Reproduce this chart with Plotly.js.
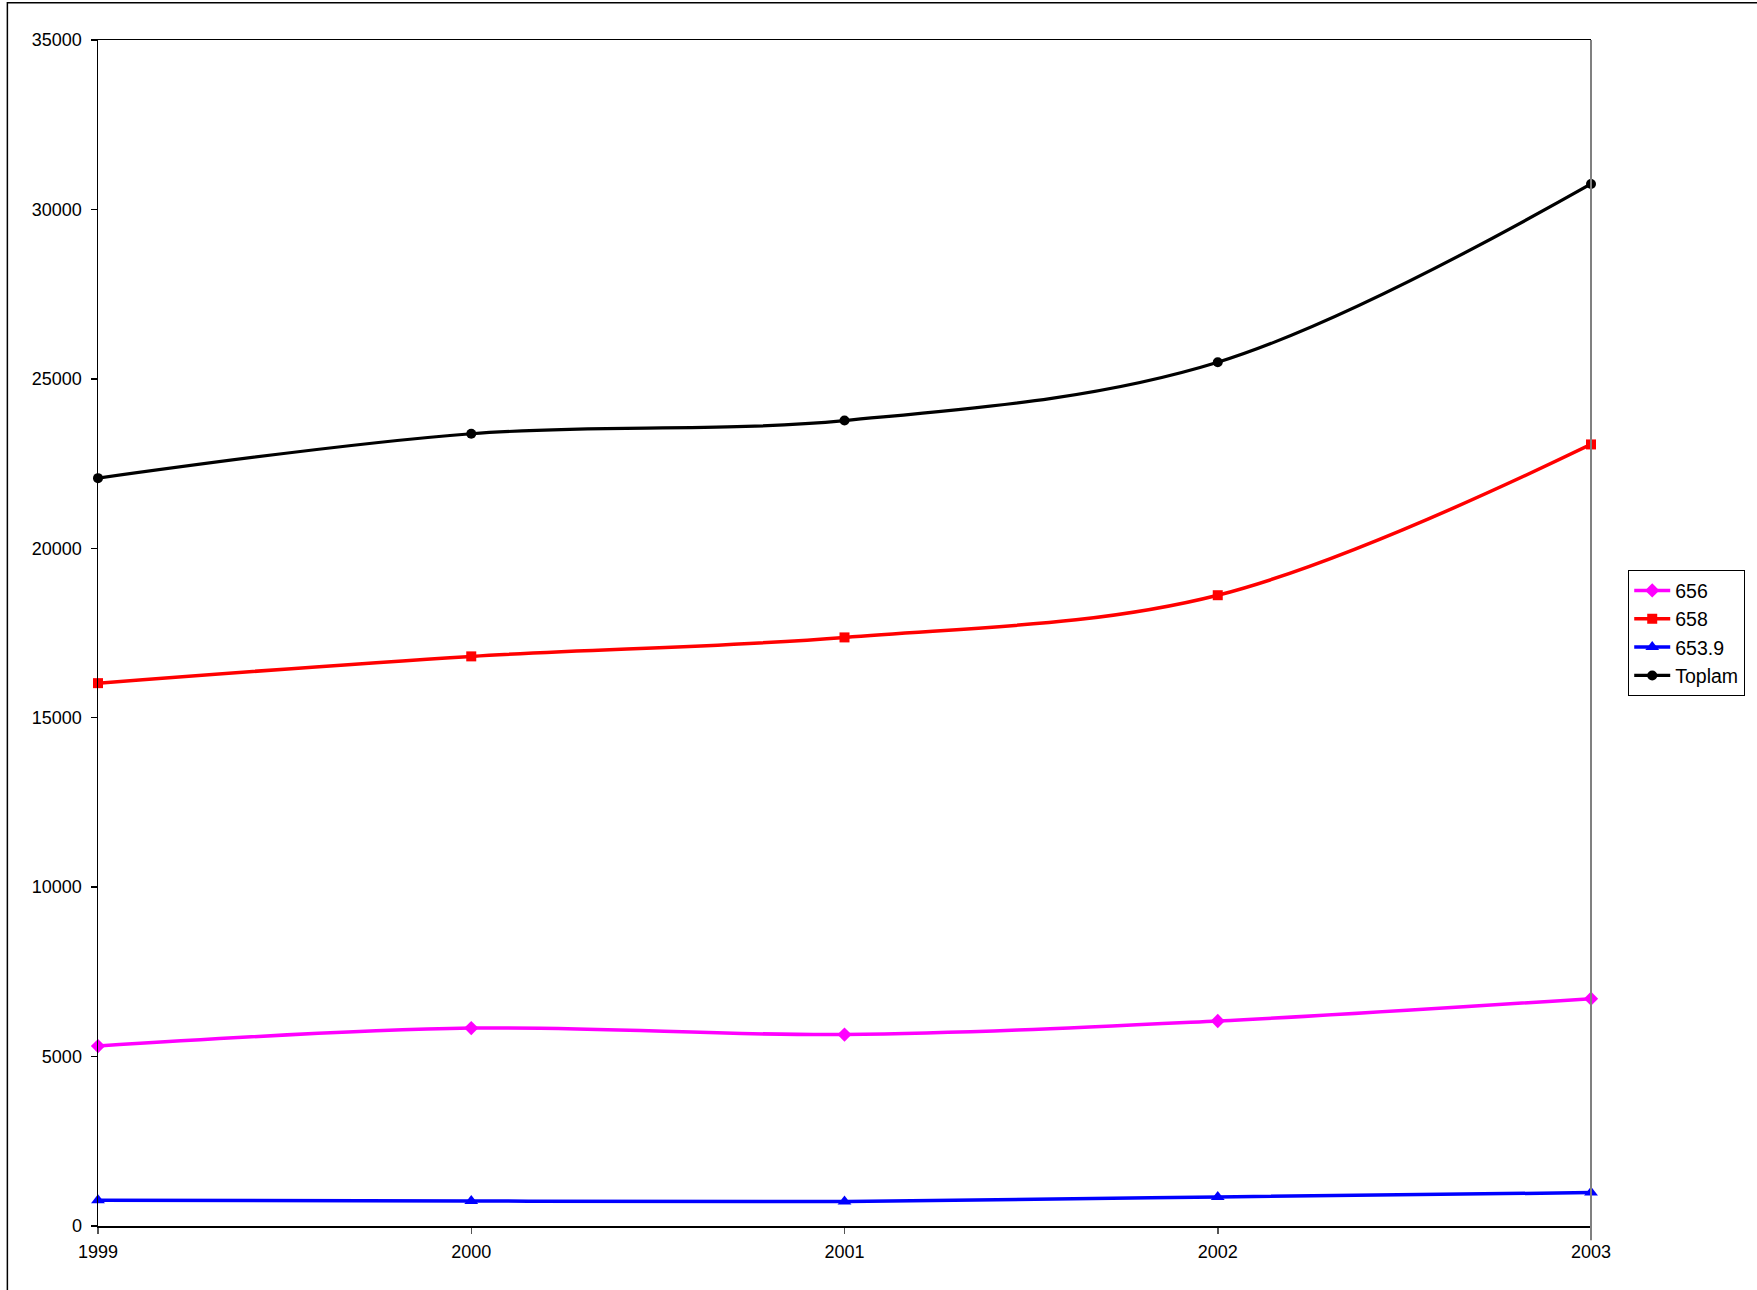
<!DOCTYPE html>
<html>
<head>
<meta charset="utf-8">
<script src="https://cdn.plot.ly/plotly-3.0.1.min.js"></script>
<style>
  html, body { margin: 0; padding: 0; background: #fff; }
  #chart { width: 1757px; height: 1290px; }
</style>
</head>
<body>
<div id="chart"></div>
<script>
const years = [1999, 2000, 2001, 2002, 2003];
const yearLabels = ["1999", "2000", "2001", "2002", "2003"];
const s656 = [5310, 5840, 5650, 6050, 6710];
const s658 = [16020, 16810, 17370, 18615, 23065];
const s6539 = [758, 738, 720, 856, 986];
const toplam = [22070, 23380, 23770, 25490, 30750];
const yTicks = [0, 5000, 10000, 15000, 20000, 25000, 30000, 35000];

const font = "Liberation Sans, Arial, sans-serif";

function series(name, y, color, symbol, size, width) {
  return {
    type: "scatter", mode: "lines+markers", name: name,
    x: years, y: y,
    line: { color: color, width: width, shape: "spline", smoothing: 1 },
    marker: { color: color, symbol: symbol, size: size, line: { width: 0 } },
    cliponaxis: false
  };
}

const data = [
  series("656", s656, "#ff00ff", "diamond", 11, 3.5),
  series("658", s658, "#ff0000", "square", 10, 3.5),
  series("653.9", s6539, "#0000ff", "triangle-up", 12, 3.5),
  series("Toplam", toplam, "#000000", "circle", 10, 3.2)
];

const layout = {
  width: 1757, height: 1290,
  margin: { l: 98, r: 166, t: 40, b: 64 },
  paper_bgcolor: "#ffffff", plot_bgcolor: "#ffffff",
  font: { family: font, size: 18, color: "#000" },
  showlegend: true,
  legend: {
    x: 1.0248, xanchor: "left", y: 0.5, yanchor: "middle",
    bordercolor: "#000", borderwidth: 1.2, bgcolor: "#fff",
    font: { family: font, size: 19.5, color: "#000" },
    itemwidth: 36, tracegroupgap: 0
  },
  xaxis: {
    range: [1999, 2003], tickvals: years, ticktext: yearLabels,
    showgrid: false, zeroline: false,
    showline: true, linecolor: "#000", linewidth: 1.5, mirror: true,
    ticks: "outside", ticklen: 6, tickcolor: "#555", tickwidth: 1.5,
    ticklabelstandoff: 3,
    tickfont: { family: font, size: 18, color: "#000" }
  },
  yaxis: {
    range: [0, 35000], tickvals: yTicks, ticktext: yTicks.map(String),
    showgrid: false, zeroline: false,
    showline: true, linecolor: "#000", linewidth: 1.5,
    ticks: "outside", ticklen: 6, tickcolor: "#000", tickwidth: 1.5,
    ticklabelstandoff: 5,
    tickfont: { family: font, size: 18, color: "#000" }
  },
  shapes: [
    { type: "line", xref: "paper", yref: "paper", x0: 1, x1: 1, y0: -0.012, y1: 1,
      line: { color: "#808080", width: 2 } },
    { type: "rect", xref: "paper", yref: "paper", x0: -0.0607, x1: 1.2, y0: -0.1, y1: 1.0315,
      line: { color: "#000", width: 1.5 }, fillcolor: "rgba(0,0,0,0)", layer: "below" }
  ]
};

Plotly.newPlot("chart", data, layout, { displayModeBar: false, staticPlot: true });
</script>
</body>
</html>
